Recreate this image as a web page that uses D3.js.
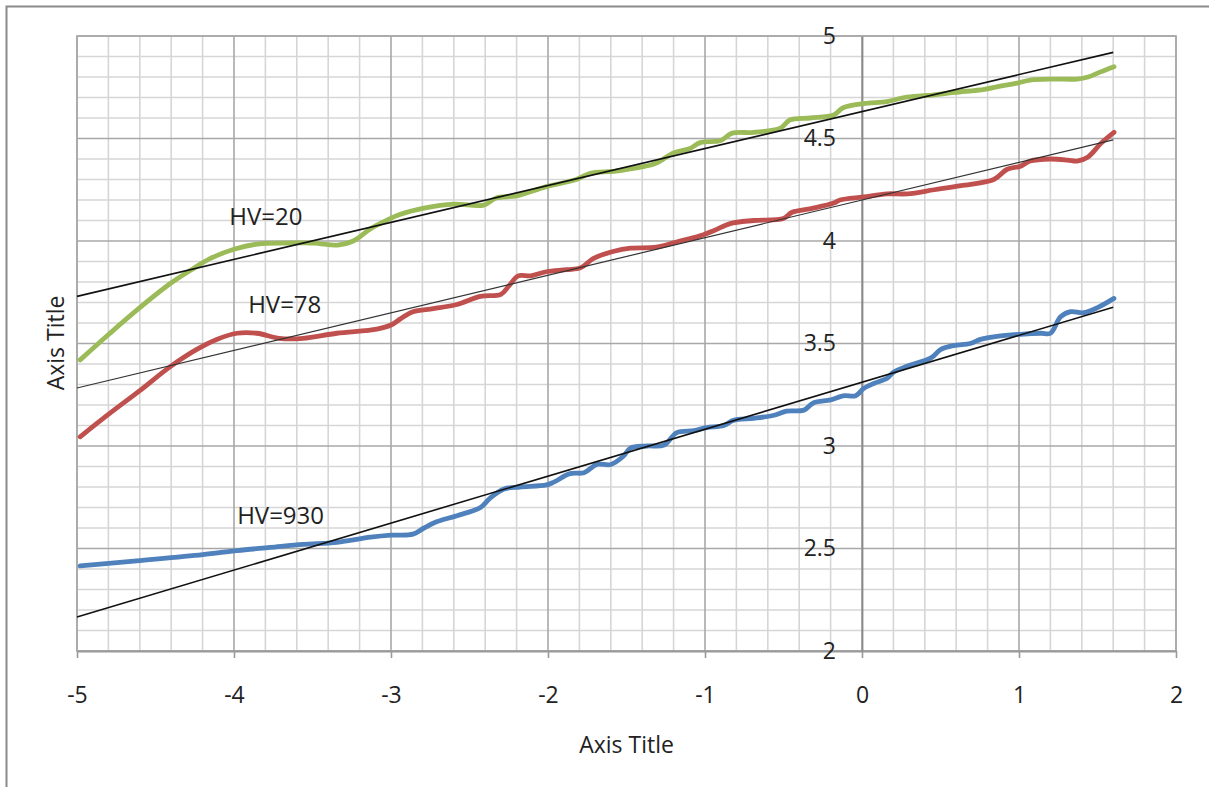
<!DOCTYPE html>
<html>
<head>
<meta charset="utf-8">
<script src="https://cdn.jsdelivr.net/npm/d3@7"></script>
<style>
  body { margin: 0; background: #fff; }
  svg text { font-family: "Open Sans", sans-serif; fill: #222; }
</style>
</head>
<body>
<svg></svg>
<script>
// Curve points, [x, y]
const hv20 = [[-4.98,3.42],[-4.79,3.55],[-4.60,3.675],[-4.41,3.79],[-4.26,3.865],[-4.15,3.915],[-4.00,3.96],[-3.85,3.985],[-3.66,3.99],[-3.49,3.99],[-3.34,3.98],[-3.24,4.00],[-3.13,4.06],[-3.03,4.10],[-2.94,4.13],[-2.79,4.16],[-2.60,4.18],[-2.41,4.175],[-2.33,4.21],[-2.20,4.22],[-2.01,4.265],[-1.82,4.30],[-1.73,4.33],[-1.58,4.34],[-1.41,4.36],[-1.31,4.38],[-1.20,4.43],[-1.10,4.45],[-1.03,4.48],[-0.90,4.49],[-0.83,4.525],[-0.69,4.53],[-0.52,4.55],[-0.46,4.59],[-0.33,4.60],[-0.18,4.615],[-0.12,4.65],[0.01,4.67],[0.16,4.68],[0.27,4.70],[0.42,4.71],[0.59,4.725],[0.78,4.74],[0.88,4.755],[0.99,4.77],[1.07,4.785],[1.22,4.79],[1.37,4.79],[1.44,4.80],[1.52,4.825],[1.605,4.85]];

const hv78 = [[-4.98,3.045],[-4.79,3.16],[-4.60,3.27],[-4.41,3.385],[-4.24,3.47],[-4.11,3.52],[-3.98,3.55],[-3.855,3.55],[-3.71,3.525],[-3.56,3.525],[-3.345,3.55],[-3.09,3.57],[-3.00,3.59],[-2.94,3.62],[-2.86,3.655],[-2.73,3.67],[-2.58,3.69],[-2.43,3.73],[-2.30,3.74],[-2.25,3.78],[-2.19,3.83],[-2.11,3.83],[-2.01,3.85],[-1.88,3.86],[-1.79,3.87],[-1.71,3.915],[-1.58,3.95],[-1.475,3.965],[-1.31,3.97],[-1.16,4.00],[-1.05,4.02],[-0.945,4.05],[-0.84,4.085],[-0.69,4.10],[-0.50,4.11],[-0.445,4.14],[-0.31,4.16],[-0.18,4.185],[-0.14,4.20],[0.01,4.215],[0.16,4.23],[0.29,4.23],[0.46,4.25],[0.63,4.27],[0.84,4.30],[0.925,4.35],[1.01,4.365],[1.07,4.39],[1.20,4.40],[1.31,4.395],[1.37,4.39],[1.44,4.41],[1.52,4.475],[1.605,4.53]];

const hv930 = [[-4.98,2.415],[-4.62,2.44],[-4.20,2.47],[-3.98,2.49],[-3.77,2.505],[-3.56,2.52],[-3.345,2.53],[-3.13,2.555],[-3.00,2.565],[-2.86,2.57],[-2.79,2.60],[-2.71,2.63],[-2.58,2.66],[-2.43,2.70],[-2.37,2.745],[-2.28,2.79],[-2.18,2.80],[-2.01,2.81],[-1.96,2.825],[-1.86,2.865],[-1.77,2.87],[-1.69,2.91],[-1.60,2.91],[-1.52,2.95],[-1.475,2.99],[-1.37,3.00],[-1.26,3.005],[-1.18,3.065],[-1.07,3.075],[-0.99,3.09],[-0.88,3.10],[-0.82,3.125],[-0.69,3.135],[-0.56,3.15],[-0.48,3.17],[-0.37,3.175],[-0.31,3.21],[-0.20,3.225],[-0.12,3.245],[-0.04,3.245],[0.01,3.28],[0.075,3.305],[0.16,3.33],[0.20,3.36],[0.29,3.39],[0.44,3.43],[0.50,3.47],[0.585,3.49],[0.69,3.50],[0.755,3.52],[0.86,3.535],[1.01,3.545],[1.14,3.55],[1.20,3.55],[1.265,3.63],[1.33,3.655],[1.41,3.65],[1.50,3.675],[1.605,3.72]];

// Straight fit lines, end points
const trend20 = [[-5, 3.73], [1.6, 4.92]];
const trend78 = [[-5, 3.283], [1.6, 4.493]];
const trend930 = [[-5, 2.166], [1.6, 3.677]];

// Series labels and where they sit (data coords)
const labelNames = ["HV=20", "HV=78", "HV=930"];
const labelX = [-4.03, -3.91, -3.98];
const labelY = [4.11, 3.68, 2.65];

const xTicks = [-5, -4, -3, -2, -1, 0, 1, 2];
const yTicks = [2, 2.5, 3, 3.5, 4, 4.5, 5];

const W = 1209, H = 787;
const plot = { left: 77, right: 1176, top: 36, bottom: 651 };

const svg = d3.select("svg").attr("width", W).attr("height", H);

// outer chart frame
svg.append("rect")
    .attr("x", 6.5).attr("y", 6.5)
    .attr("width", W + 10).attr("height", H + 10)
    .attr("fill", "#fff")
    .attr("stroke", "#8a8a8a")
    .attr("stroke-width", 2);

const x = d3.scaleLinear().domain([-5, 2]).range([plot.left, plot.right]);
const y = d3.scaleLinear().domain([2, 5]).range([plot.bottom, plot.top]);

// gridlines: minor first, then major on top
const grid = svg.append("g");
const near = (v, step) => Math.abs(v / step - Math.round(v / step)) < 1e-6;

const xGrid = d3.range(0, 36).map(i => -5 + i * 0.2);
const yGrid = d3.range(0, 31).map(i => 2 + i * 0.1);

grid.selectAll(".vminor")
    .data(xGrid.filter(v => !near(v, 1)))
    .enter().append("line")
    .attr("x1", d => x(d)).attr("x2", d => x(d))
    .attr("y1", plot.top).attr("y2", plot.bottom)
    .attr("stroke", "#d6d6d6").attr("stroke-width", 1.6);

grid.selectAll(".hminor")
    .data(yGrid.filter(v => !near(v, 0.5)))
    .enter().append("line")
    .attr("x1", plot.left).attr("x2", plot.right)
    .attr("y1", d => y(d)).attr("y2", d => y(d))
    .attr("stroke", "#d6d6d6").attr("stroke-width", 1.6);

grid.selectAll(".vmajor")
    .data(xGrid.filter(v => near(v, 1)))
    .enter().append("line")
    .attr("x1", d => x(d)).attr("x2", d => x(d))
    .attr("y1", plot.top).attr("y2", plot.bottom)
    .attr("stroke", "#a8a8a8").attr("stroke-width", 1.6);

grid.selectAll(".hmajor")
    .data(yGrid.filter(v => near(v, 0.5)))
    .enter().append("line")
    .attr("x1", plot.left).attr("x2", plot.right)
    .attr("y1", d => y(d)).attr("y2", d => y(d))
    .attr("stroke", "#a8a8a8").attr("stroke-width", 1.6);

// plot area border
svg.append("rect")
    .attr("x", plot.left).attr("y", plot.top)
    .attr("width", plot.right - plot.left).attr("height", plot.bottom - plot.top)
    .attr("fill", "none").attr("stroke", "#a8a8a8").attr("stroke-width", 1.6);

// x axis along y = 2
const xAxis = svg.append("g")
    .attr("transform", `translate(0,${y(2)})`)
    .call(d3.axisBottom(x).tickValues(xTicks).tickFormat(d => String(d))
        .tickSizeInner(7).tickSizeOuter(0).tickPadding(29));
xAxis.select(".domain").attr("stroke", "#9a9a9a").attr("stroke-width", 2);
xAxis.selectAll(".tick line").attr("stroke", "#9a9a9a").attr("stroke-width", 1.6);
xAxis.selectAll("text").style("font-size", "23px").attr("fill", "#222");

// y axis crossing at x = 0
const yAxis = svg.append("g")
    .attr("transform", `translate(${x(0)},0)`)
    .call(d3.axisLeft(y).tickValues(yTicks).tickFormat(d => String(d))
        .tickSize(0).tickPadding(26));
yAxis.select(".domain").attr("stroke", "#8a8a8a").attr("stroke-width", 1.8);
yAxis.selectAll("text").style("font-size", "23px").attr("fill", "#222");

// axis titles
svg.append("text")
    .attr("x", (plot.left + plot.right) / 2).attr("y", 747)
    .attr("text-anchor", "middle").attr("dominant-baseline", "middle")
    .style("font-size", "23px")
    .text("Axis Title");

svg.append("text")
    .attr("transform", "translate(58,343) rotate(-90)")
    .attr("text-anchor", "middle").attr("dominant-baseline", "middle")
    .style("font-size", "23px")
    .text("Axis Title");

// series curves (smoothed like the spreadsheet)
const curve = d3.line()
    .x(d => x(d[0])).y(d => y(d[1]))
    .curve(d3.curveCatmullRom.alpha(0.5));

const series = [
    { pts: hv20, color: "#9bbb59" },
    { pts: hv78, color: "#c0504d" },
    { pts: hv930, color: "#4f81bd" }
];

svg.selectAll(".series")
    .data(series)
    .enter().append("path")
    .attr("class", "series")
    .attr("d", d => curve(d.pts))
    .attr("fill", "none")
    .attr("stroke", d => d.color)
    .attr("stroke-width", 4.8)
    .attr("stroke-linejoin", "round")
    .attr("stroke-linecap", "round");

// fit lines
const straight = d3.line().x(d => x(d[0])).y(d => y(d[1]));
const trends = [
    { pts: trend20, w: 1.6, c: "#111" },
    { pts: trend78, w: 1.2, c: "#333" },
    { pts: trend930, w: 1.6, c: "#111" }
];
svg.selectAll(".trend")
    .data(trends)
    .enter().append("path")
    .attr("class", "trend")
    .attr("d", d => straight(d.pts))
    .attr("fill", "none")
    .attr("stroke", d => d.c)
    .attr("stroke-width", d => d.w);

// labels
svg.selectAll(".hv")
    .data(labelNames)
    .enter().append("text")
    .attr("class", "hv")
    .attr("x", (d, i) => x(labelX[i]))
    .attr("y", (d, i) => y(labelY[i]))
    .attr("dominant-baseline", "middle")
    .style("font-size", "24px")
    .text(d => d);
</script>
</body>
</html>
